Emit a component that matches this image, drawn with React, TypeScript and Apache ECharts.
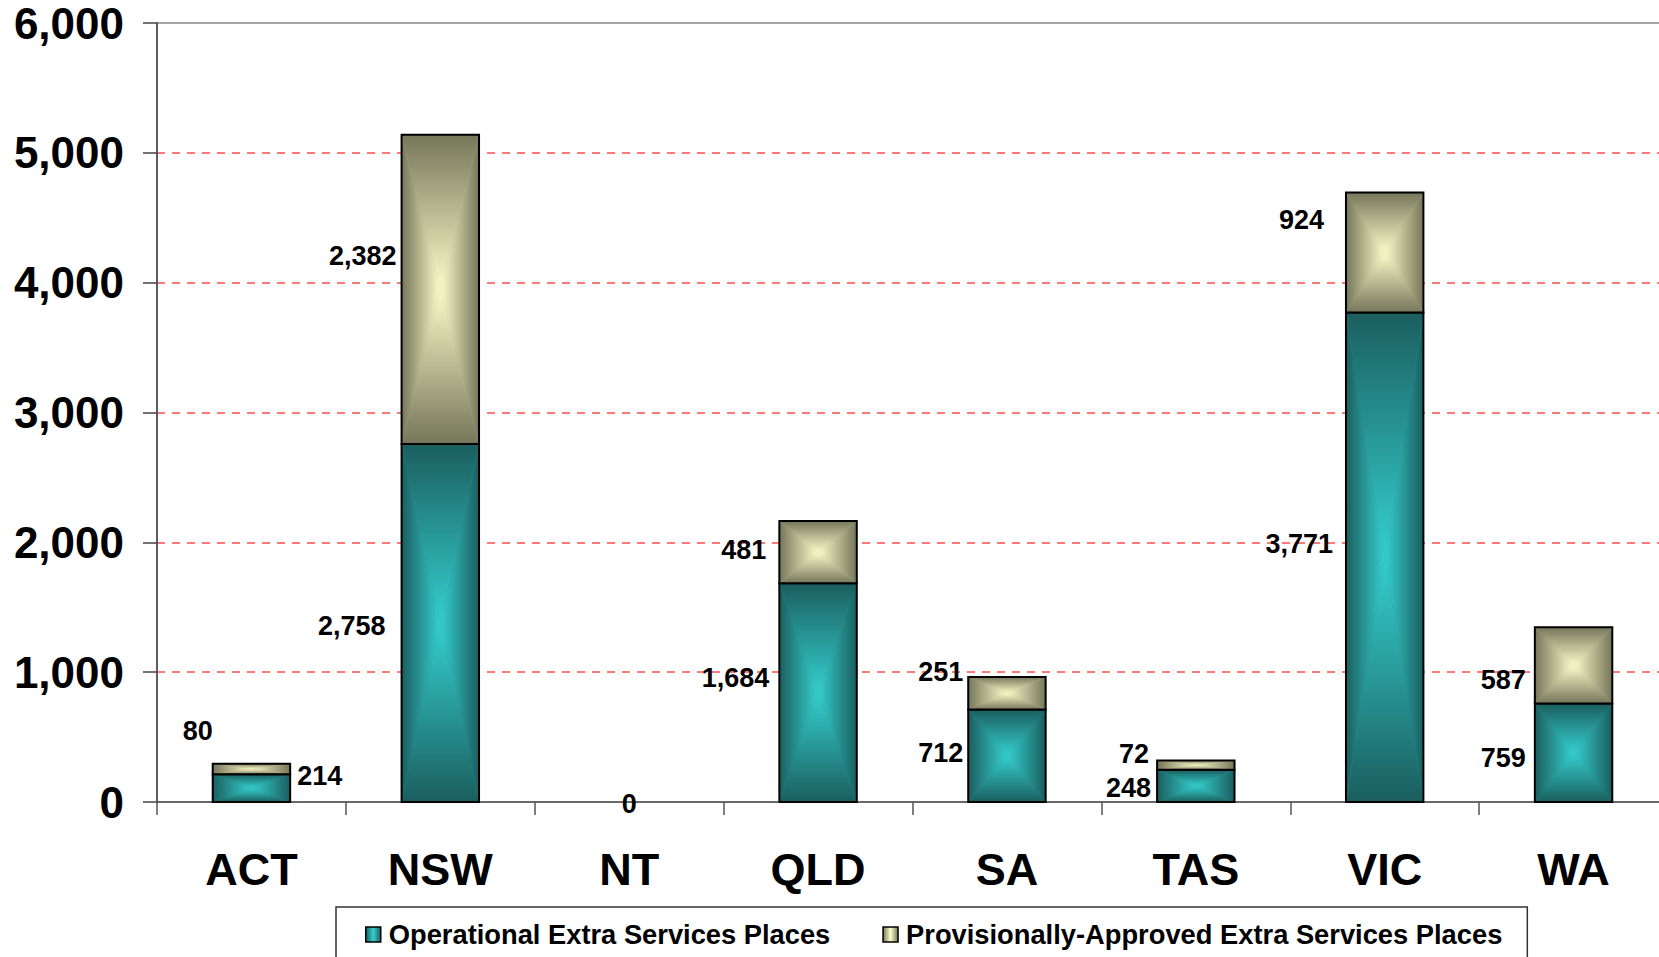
import React, { useEffect, useRef } from 'react';
import * as echarts from 'echarts';

const CATEGORIES = ['ACT', 'NSW', 'NT', 'QLD', 'SA', 'TAS', 'VIC', 'WA'];
const OPERATIONAL = [214, 2758, 0, 1684, 712, 248, 3771, 759];
const PROVISIONAL: (number | null)[] = [80, 2382, null, 481, 251, 72, 924, 587];
const SERIES_NAMES = ['Operational Extra Services Places', 'Provisionally-Approved Extra Services Places'];
const Y_MIN = 0;
const Y_MAX = 6000;
const Y_STEP = 1000;

// label placement (style, not data)
type LabelLayout = { pos: 'left' | 'right' | 'center'; dist: number; dy: number } | null;
const OP_LABEL_LAYOUT: LabelLayout[] = [
  { pos: 'right', dist: 7, dy: -12 },
  { pos: 'left', dist: 16, dy: 3 },
  { pos: 'center', dist: 0, dy: 2 },
  { pos: 'left', dist: 10, dy: -15 },
  { pos: 'left', dist: 5, dy: -3 },
  { pos: 'left', dist: 6, dy: 2 },
  { pos: 'left', dist: 13, dy: -13 },
  { pos: 'left', dist: 9, dy: 5 },
];
const PROV_LABEL_LAYOUT: LabelLayout[] = [
  { pos: 'left', dist: 0, dy: -38 },
  { pos: 'left', dist: 5, dy: -33 },
  null,
  { pos: 'left', dist: 13, dy: -2 },
  { pos: 'left', dist: 5, dy: -21 },
  { pos: 'left', dist: 8, dy: -11 },
  { pos: 'left', dist: 22, dy: -32 },
  { pos: 'left', dist: 9, dy: 15 },
];

const FONT = '"Liberation Sans", Arial, Helvetica, sans-serif';
const BAR_RATIO = 0.41;
const OP_DARK = '#1b5e5e';
const OP_LIGHT = '#35cfcf';
const PROV_DARK = '#76765a';
const PROV_LIGHT = '#fcfcca';

const fmt = (v: number) => v.toLocaleString('en-US');

function makeRenderItem(layouts: LabelLayout[], dark: string, light: string) {
  return (params: any, api: any) => {
    const idx = params.dataIndex;
    const cat = api.value(0);
    const lo = api.value(1);
    const hi = api.value(2);
    const label = api.value(3);
    const pLo = api.coord([cat, lo]);
    const pHi = api.coord([cat, hi]);
    const bandW = api.size([1, 0])[0];
    const w = bandW * BAR_RATIO;
    const cx = pLo[0];
    const x0 = cx - w / 2;
    const x1 = cx + w / 2;
    const yTop = pHi[1];
    const yBot = pLo[1];
    const cy = (yTop + yBot) / 2;
    const stops = (a: string, b: string) => [
      { offset: 0, color: a },
      { offset: 1, color: b },
    ];
    const children: any[] = [];
    const h = yBot - yTop;
    if (h > 0.5) {
      const mid = echarts.color.lerp(0.45, [dark, light]);
      children.push({ type: 'rect', shape: { x: x0, y: yTop, width: w, height: h }, style: { fill: mid } });
      children.push({
        type: 'polygon',
        shape: { points: [[x0, yTop], [cx, cy], [x0, yBot]] },
        style: { fill: new echarts.graphic.LinearGradient(x0, 0, cx, 0, stops(dark, light), true) },
      });
      children.push({
        type: 'polygon',
        shape: { points: [[x1, yTop], [cx, cy], [x1, yBot]] },
        style: { fill: new echarts.graphic.LinearGradient(x1, 0, cx, 0, stops(dark, light), true) },
      });
      children.push({
        type: 'polygon',
        shape: { points: [[x0, yTop], [x1, yTop], [cx, cy]] },
        style: { fill: new echarts.graphic.LinearGradient(0, yTop, 0, cy, stops(dark, light), true) },
      });
      children.push({
        type: 'polygon',
        shape: { points: [[x0, yBot], [x1, yBot], [cx, cy]] },
        style: { fill: new echarts.graphic.LinearGradient(0, yBot, 0, cy, stops(dark, light), true) },
      });
      children.push({
        type: 'rect',
        shape: { x: x0, y: yTop, width: w, height: h },
        style: { fill: 'none', stroke: '#000', lineWidth: 2 },
      });
    }
    const lay = layouts[idx];
    if (lay) {
      let tx = cx;
      let align = 'center';
      if (lay.pos === 'left') {
        tx = x0 - lay.dist;
        align = 'right';
      } else if (lay.pos === 'right') {
        tx = x1 + lay.dist;
        align = 'left';
      }
      children.push({
        type: 'text',
        x: tx,
        y: cy + lay.dy,
        z2: 10,
        style: {
          text: fmt(label),
          align,
          verticalAlign: 'middle',
          fontSize: 27,
          fontWeight: 'bold',
          fontFamily: FONT,
          fill: '#000',
        },
      });
    }
    return { type: 'group', children };
  };
}

export default function App() {
  const ref = useRef<HTMLDivElement>(null);
  useEffect(() => {
    if (!ref.current) return;
    const chart = echarts.init(ref.current, undefined, { renderer: 'svg' });
    const opData = CATEGORIES.map((c, i) => [i, 0, OPERATIONAL[i], OPERATIONAL[i]]);
    const provData = CATEGORIES.map((c, i) =>
      PROVISIONAL[i] == null
        ? [i, OPERATIONAL[i], OPERATIONAL[i], 0]
        : [i, OPERATIONAL[i], OPERATIONAL[i] + (PROVISIONAL[i] as number), PROVISIONAL[i]]
    );
    const iconGrad = (d: string, l: string) =>
      new echarts.graphic.LinearGradient(0, 0, 1, 0, [
        { offset: 0, color: d },
        { offset: 0.5, color: l },
        { offset: 1, color: d },
      ]);
    chart.setOption({
      animation: false,
      backgroundColor: '#fff',
      grid: {
        left: 157,
        top: 23,
        width: 1511,
        bottom: 155,
        outerBoundsMode: 'none',
        show: true,
        borderColor: '#8a8a8a',
        borderWidth: 1.5,
        backgroundColor: 'transparent',
      },
      legend: {
        left: 336,
        top: 907,
        itemWidth: 15,
        itemHeight: 15,
        itemGap: 52,
        padding: [14, 25, 14, 29],
        borderColor: '#333',
        borderWidth: 1.5,
        textStyle: { fontSize: 27.3, fontWeight: 'bold', color: '#000', fontFamily: FONT, padding: [0, 0, 0, 3] },
        data: [
          { name: SERIES_NAMES[0], icon: 'rect', itemStyle: { color: iconGrad(OP_DARK, OP_LIGHT), borderColor: '#000', borderWidth: 1.5 } },
          { name: SERIES_NAMES[1], icon: 'rect', itemStyle: { color: iconGrad(PROV_DARK, PROV_LIGHT), borderColor: '#000', borderWidth: 1.5 } },
        ],
      },
      xAxis: {
        type: 'category',
        data: CATEGORIES,
        axisLine: { lineStyle: { color: '#555', width: 1.5 } },
        axisTick: { show: true, length: 13, lineStyle: { color: '#555', width: 1.5 } },
        axisLabel: { fontSize: 45, fontWeight: 'bold', color: '#000', fontFamily: FONT, margin: 45 },
      },
      yAxis: {
        type: 'value',
        min: Y_MIN,
        max: Y_MAX,
        interval: Y_STEP,
        axisLine: { show: true, lineStyle: { color: '#444', width: 1.5 } },
        axisTick: { show: true, length: 14, lineStyle: { color: '#444', width: 1.5 } },
        axisLabel: {
          fontSize: 44,
          fontWeight: 'bold',
          color: '#000',
          fontFamily: FONT,
          margin: 33,
          formatter: (v: number) => fmt(v),
        },
        splitLine: {
          show: true,
          showMinLine: false,
          showMaxLine: false,
          lineStyle: { color: '#ff4d4d', type: [8, 7], width: 1.5 },
        },
      },
      series: [
        {
          type: 'custom',
          name: SERIES_NAMES[0],
          itemStyle: { color: OP_LIGHT },
          encode: { x: 0, y: [1, 2] },
          data: opData,
          renderItem: makeRenderItem(OP_LABEL_LAYOUT, OP_DARK, OP_LIGHT),
        },
        {
          type: 'custom',
          name: SERIES_NAMES[1],
          itemStyle: { color: PROV_LIGHT },
          encode: { x: 0, y: [1, 2] },
          data: provData,
          renderItem: makeRenderItem(PROV_LABEL_LAYOUT, PROV_DARK, PROV_LIGHT),
        },
      ],
    });
    return () => chart.dispose();
  }, []);
  return <div ref={ref} style={{ position: 'absolute', left: 0, top: 0, width: 1659, height: 957 }} />;
}
